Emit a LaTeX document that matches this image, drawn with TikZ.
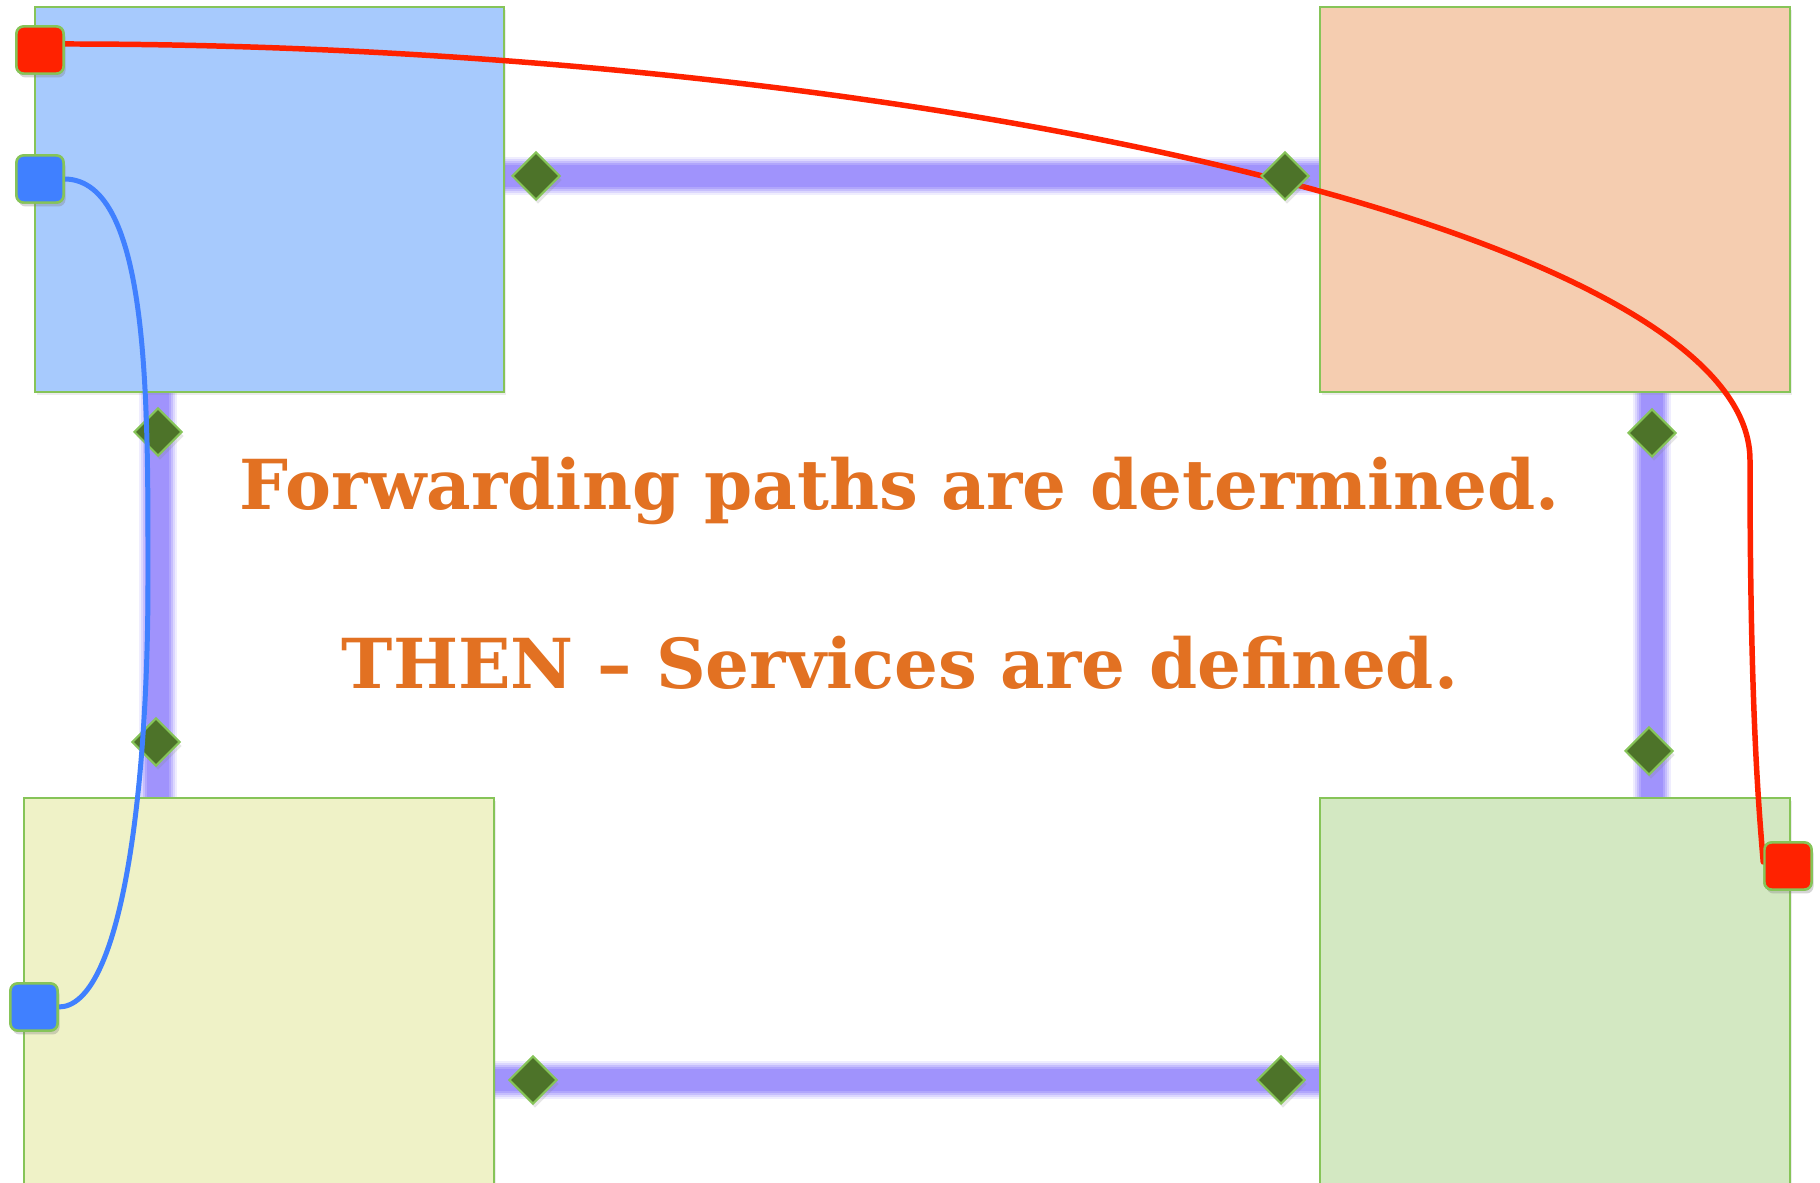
\documentclass[tikz,border=0pt]{standalone}
\usepackage{fontspec}
\usetikzlibrary{shapes.geometric,shadows,calc,backgrounds}
\newfontfamily\headfont{DejaVu Serif}

\definecolor{paneblue}{RGB}{167,202,253}
\definecolor{panepeach}{RGB}{245,205,176}
\definecolor{paneyellow}{RGB}{239,242,199}
\definecolor{panegreen}{RGB}{211,232,194}
\definecolor{rimgreen}{RGB}{134,196,88}
\definecolor{portgreen}{RGB}{77,115,41}
\definecolor{bandviolet}{RGB}{100,80,250}
\definecolor{pathred}{RGB}{255,34,0}
\definecolor{pathblue}{RGB}{64,128,255}
\definecolor{headorange}{RGB}{226,113,34}

% one pixel of the drawing grid
\newcommand\px{0.2837pt}

% soft, fuzzy link between two panels
\newcommand\fuzzyband[2]{%
  \foreach \w/\o in {38/0.10,34/0.14,30/0.18,26/0.22,22/0.22}{%
    \draw[bandviolet, line width=\w*\px, opacity=\o, line cap=butt] #1 -- #2;}}

\tikzset{
  panel/.style={draw=rimgreen, line width=2*\px, fill=#1, inner sep=0pt,
    anchor=north west,
    drop shadow={opacity=0.15, shadow xshift=2*\px, shadow yshift=-3*\px}},
  port/.style={shape=diamond, aspect=1, draw=rimgreen, line width=2*\px,
    fill=portgreen, inner sep=0pt, minimum width=0.48cm, minimum height=0.48cm,
    drop shadow={opacity=0.2, shadow xshift=2*\px, shadow yshift=-4*\px}},
  tab/.style={draw=rimgreen, line width=2.5*\px, fill=#1, inner sep=0pt,
    minimum size=0.47cm, rounded corners=2pt,
    drop shadow={opacity=0.18, shadow xshift=2*\px, shadow yshift=-4*\px}},
  redpath/.style={pathred, line width=5.5*\px, line cap=round},
  bluepath/.style={pathblue, line width=5*\px, line cap=round},
  headline/.style={text=headorange, font=\headfont\bfseries\fontsize{19.6}{24}\selectfont,
    inner sep=0pt, anchor=base}
}

\begin{document}
\begin{tikzpicture}[x=0.01cm, y=-0.01cm]
\useasboundingbox (0,0) rectangle (1820,1183);

% port positions along the links
\coordinate (pTopL) at (536,176);
\coordinate (pTopR) at (1285,176);
\coordinate (pLeftU) at (158,432);
\coordinate (pLeftD) at (156,742);
\coordinate (pRightU) at (1652,433);
\coordinate (pRightD) at (1649,751);
\coordinate (pBotL) at (533,1080);
\coordinate (pBotR) at (1281,1080);

% the four panels
\path
  (34,6)    node[panel=paneblue,   minimum width=4.69cm, minimum height=3.85cm] (nw) {}
  (1319,6)  node[panel=panepeach,  minimum width=4.70cm, minimum height=3.85cm] (ne) {}
  (23,797)  node[panel=paneyellow, minimum width=4.70cm, minimum height=3.90cm] (sw) {}
  (1319,797) node[panel=panegreen, minimum width=4.70cm, minimum height=3.90cm] (se) {};

% links between the panels, kept behind them
\begin{scope}[on background layer]
\fuzzyband{(nw.east |- pTopL)}{(ne.west |- pTopL)}
\fuzzyband{(sw.east |- pBotL)}{(se.west |- pBotL)}
\fuzzyband{(pLeftU |- nw.south)}{(pLeftU |- sw.north)}
\fuzzyband{(pRightU |- ne.south)}{(pRightU |- se.north)}
\end{scope}

% endpoint tabs
\node[tab=pathred]  (redA)  at (40,50)   {};
\node[tab=pathred]  (redB)  at (1788,866) {};
\node[tab=pathblue] (blueA) at (40,179)  {};
\node[tab=pathblue] (blueB) at (34,1007) {};

% red path
\coordinate (redStart) at ($(redA.east)+(0,-6)$);
\coordinate (redBend) at (1750,460);
\draw[redpath] (redStart) .. controls (900,44) and (1750,230) .. (redBend)
  .. controls (1750,700) and (1758,800) .. ($(redB.west)+(0,-4)$);

% ports on the links
\foreach \p in {pTopL,pTopR,pLeftU,pLeftD,pRightU,pRightD,pBotL,pBotR}
  \node[port] (d\p) at (\p) {};

% blue path
\coordinate (blueMid) at (148,580);
\draw[bluepath] (blueA.east) .. controls (150,180) and (148,400) .. (blueMid)
  .. controls (148,800) and (120,1007) .. (blueB.east);

% tabs again on top of the path ends
\node[tab=pathred]  at (redA)  {};
\node[tab=pathred]  at (redB)  {};
\node[tab=pathblue] at (blueA) {};
\node[tab=pathblue] at (blueB) {};

% captions
\node[headline] (line1) at (900,510) {Forwarding paths are determined.};
\node[headline] (line2) at (900,689) {THEN – Services are defined.};
\end{tikzpicture}
\end{document}
